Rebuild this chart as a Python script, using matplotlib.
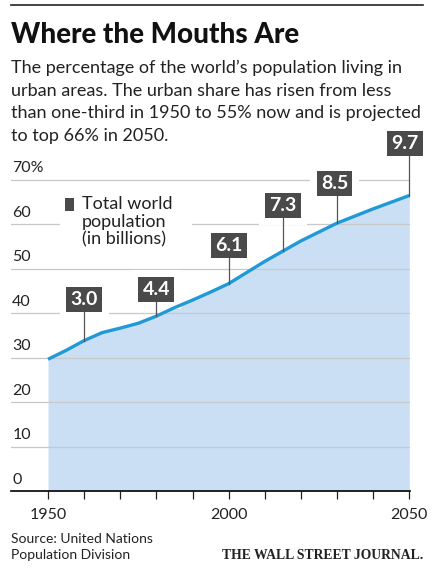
import numpy as np
import matplotlib
matplotlib.use("Agg")
import matplotlib.pyplot as plt
from matplotlib.patches import Rectangle
from matplotlib.lines import Line2D

# urban share of world population, %
years = [1950, 1955, 1960, 1965, 1970, 1975, 1980, 1985, 1990, 1995, 2000,
         2005, 2010, 2015, 2020, 2025, 2030, 2035, 2040, 2045, 2050]
urban_pct = [29.6, 31.6, 33.8, 35.6, 36.6, 37.7, 39.3, 41.2, 42.9, 44.7, 46.6,
             49.1, 51.6, 53.9, 56.2, 58.2, 60.2, 61.8, 63.4, 64.9, 66.4]

# total world population callouts (billions)
pop_years = [1960, 1980, 2000, 2015, 2030, 2050]
pop_labels = ["3.0", "4.4", "6.1", "7.3", "8.5", "9.7"]

y_ticks = [0, 10, 20, 30, 40, 50, 60, 70]
y_labels = ["0", "10", "20", "30", "40", "50", "60", "70%"]
x_ticks = list(range(1950, 2051, 10))
x_labels = ["1950", "", "", "", "", "2000", "", "", "", "", "2050"]

W, H = 438, 580
FONT = "Lato"
BOX = "#4a4a4a"
LINE = "#1f9ad6"
FILL = "#cadff3"
GRID = "#c8c8c8"


def px(x, y):
    return x / W, 1 - y / H


fig = plt.figure(figsize=(W / 100, H / 100), dpi=100)
ax = fig.add_axes([11 / W, 1 - 491 / H, 399 / W, (491 - 135) / H])

# --- area + line ---
ax.fill_between(years, urban_pct, 0, color=FILL, lw=0, zorder=1)
ax.plot(years, urban_pct, color=LINE, lw=2.4, solid_capstyle="butt", zorder=3)

for v in y_ticks[1:]:
    ax.axhline(v, color=GRID, lw=0.9, zorder=2)

ax.set_xlim(1939.75, 2050.2)
ax.set_ylim(0, 80)
for s in ["top", "right", "left"]:
    ax.spines[s].set_visible(False)
ax.spines["bottom"].set_linewidth(1.2)
ax.set_yticks([])
ax.set_xticks(x_ticks)
ax.set_xticklabels(x_labels, fontsize=11.5, family=FONT, color="#222222")
ax.tick_params(axis="x", length=6, width=0.9, pad=6, colors="#222222")

for v, lab in zip(y_ticks, y_labels):
    ax.text(0.003, v + 0.9, lab, transform=ax.get_yaxis_transform(),
            fontsize=11.5, family=FONT, color="#222222", va="bottom", ha="left")

# --- population callouts ---
box_y = [43.0, 45.3, 55.2, 64.2, 69.1, 78.1]
box_dx = [0, 0, 0, 0, -0.7, -1.2]
for yr, lab, by, dx in zip(pop_years, pop_labels, box_y, box_dx):
    yv = np.interp(yr, years, urban_pct)
    ax.plot([yr, yr], [yv, by], color="#555555", lw=0.9, zorder=4,
            clip_on=False)
    ax.text(yr + dx, by, lab, ha="center", va="center", fontsize=14,
            fontweight="bold", family=FONT, color="white", zorder=5,
            clip_on=False,
            bbox=dict(boxstyle="square,pad=0.22", fc=BOX, ec="white", lw=0))
    ax.text(yr + dx, by, lab, ha="center", va="center", fontsize=14,
            fontweight="bold", family=FONT, color="none", zorder=2.5,
            clip_on=False,
            bbox=dict(boxstyle="square,pad=0.55", fc="white", ec="none"))

# --- legend ---
fig.patches.append(Rectangle(px(60, 258), 132 / W, 66 / H,
                             transform=fig.transFigure, fc="white", ec="none",
                             zorder=4))
fig.patches.append(Rectangle(px(65, 211), 9 / W, 13 / H, transform=fig.transFigure,
                             fc=BOX, ec="none", zorder=5))
fig.text(*px(82, 196), "Total world\npopulation\n(in billions)",
         fontsize=13, family=FONT, color="#222222", va="top", ha="left",
         linespacing=1.12, zorder=5)

# --- header ---
fig.add_artist(Line2D([11 / W, 423 / W], [1 - 5 / H, 1 - 5 / H],
                      color="#222222", lw=1.2))
fig.text(*px(11, 43), "Where the Mouths Are", fontsize=20, fontweight="black",
         family=FONT, color="#111111", va="baseline", ha="left")
sub = ["The percentage of the world\u2019s population living in",
       "urban areas. The urban share has risen from less",
       "than one-third in 1950 to 55% now and is projected",
       "to top 66% in 2050."]
for i, line in enumerate(sub):
    fig.text(*px(11, 73 + 22.5 * i), line, fontsize=13, family=FONT,
             color="#222222", va="baseline", ha="left")

# --- footer ---
fig.text(*px(11, 543), "Source: United Nations", fontsize=10, family=FONT,
         color="#222222", va="baseline", ha="left")
fig.text(*px(11, 559), "Population Division", fontsize=10, family=FONT,
         color="#222222", va="baseline", ha="left")
fig.text(*px(423, 559), "THE WALL STREET JOURNAL.", fontsize=9.8,
         fontweight="bold", family="Liberation Serif", color="#222222",
         va="baseline", ha="right")

fig.savefig("out.png", dpi=100)
